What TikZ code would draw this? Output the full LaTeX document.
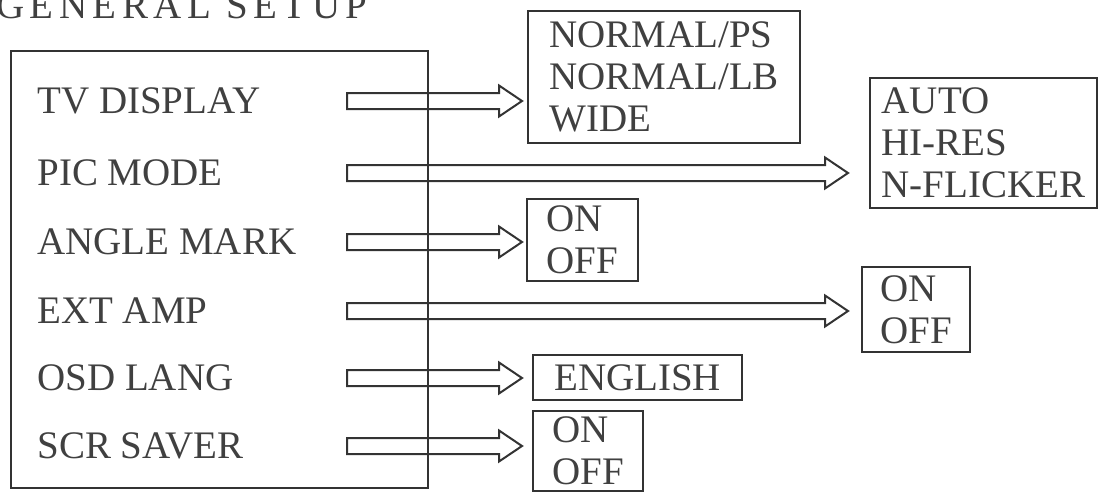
\documentclass[tikz,border=0pt]{standalone}
\usepackage{fontspec}
\setmainfont{Liberation Serif}
\usetikzlibrary{positioning, calc}

\newcommand{\fatarrow}[2]{%
  \draw[arr] ($(#1)+(0,-8)$) -- ($(#2)+(-23,-8)$) -- ($(#2)+(-23,-15.5)$)
    -- (#2) -- ($(#2)+(-23,15.5)$) -- ($(#2)+(-23,8)$) -- ($(#1)+(0,8)$) -- cycle;}

\begin{document}
\begin{tikzpicture}[
  x=0.5pt, y=-0.5pt,
  font=\fontsize{19.5}{21}\selectfont,
  every node/.style={text=black!75},
  frame/.style={draw=black!80, line width=1.1pt, anchor=north west, inner sep=0pt},
  item/.style={anchor=west, inner sep=0pt},
  optbox/.style={draw=black!80, line width=1.1pt, anchor=north west,
                 align=left, inner sep=0pt},
  arr/.style={draw=black!80, line width=1pt, line join=miter}
]
\useasboundingbox (0,0) rectangle (1101,493);

\node[anchor=base west, inner sep=0pt] (title) at (-4,18)
  {\addfontfeatures{LetterSpace=14}GENERAL SETUP};

\node[frame, minimum width=208.5pt, minimum height=218.5pt] (setup) at (10,50) {};
\coordinate (astart) at (347,0);

\node[item] (tv)  at (37,101) {TV DISPLAY};
\node[item] (pic) at (37,173) {PIC MODE};
\node[item] (ang) at (37,242) {ANGLE MARK};
\node[item] (ext) at (37,311) {EXT AMP};
\node[item] (osd) at (37,378) {OSD LANG};
\node[item] (scr) at (37,446) {SCR SAVER};

\node[optbox, minimum width=136pt, minimum height=66pt] (ps) at (527,10)
  {NORMAL/PS\\NORMAL/LB\\WIDE};
\node[optbox, minimum width=113.5pt, minimum height=65pt] (hr) at (869,77)
  {AUTO\\HI-RES\\N-FLICKER};
\node[optbox, minimum width=55.5pt, minimum height=41pt] (am) at (526,198)
  {ON\\OFF};
\node[optbox, minimum width=54pt, minimum height=42.5pt] (ea) at (861,266)
  {ON\\OFF};
\node[optbox, minimum width=104.5pt, minimum height=22.5pt] (en) at (532,354)
  {ENGLISH};
\node[optbox, minimum width=55pt, minimum height=40pt] (ss) at (532,410)
  {ON\\OFF};

\foreach \n/\b/\g in {tv/ps/5, pic/hr/21, ang/am/4, ext/ea/13, osd/en/10, scr/ss/10} {
  \coordinate (\n-s) at (astart |- \n.west);
  \coordinate (\n-e) at ($(\b.west |- \n.west)+(-\g,0)$);
  \fatarrow{\n-s}{\n-e}
}
\end{tikzpicture}
\end{document}
